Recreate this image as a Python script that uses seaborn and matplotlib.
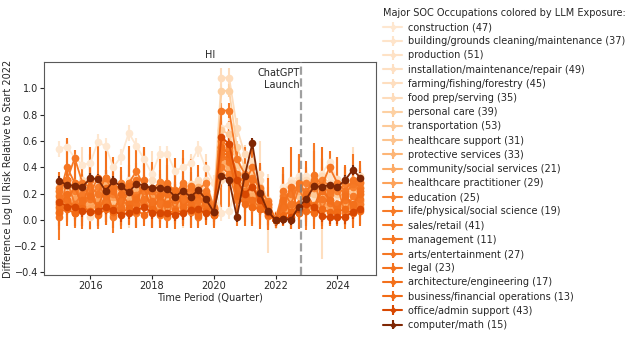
import numpy as np
import pandas as pd
import matplotlib
matplotlib.use("Agg")
import matplotlib.pyplot as plt
import seaborn as sns

quarters = ["2015Q1","2015Q2","2015Q3","2015Q4","2016Q1","2016Q2","2016Q3","2016Q4",
            "2017Q1","2017Q2","2017Q3","2017Q4","2018Q1","2018Q2","2018Q3","2018Q4",
            "2019Q1","2019Q2","2019Q3","2019Q4","2020Q1","2020Q2","2020Q3","2020Q4",
            "2021Q1","2021Q2","2021Q3","2021Q4","2022Q1","2022Q2","2022Q3","2022Q4",
            "2023Q1","2023Q2","2023Q3","2023Q4","2024Q1","2024Q2","2024Q3","2024Q4"]

occupations = ["construction (47)", "building/grounds cleaning/maintenance (37)", "production (51)",
               "installation/maintenance/repair (49)", "farming/fishing/forestry (45)",
               "food prep/serving (35)", "personal care (39)", "transportation (53)",
               "healthcare support (31)", "protective services (33)", "community/social services (21)",
               "healthcare practitioner (29)", "education (25)", "life/physical/social science (19)",
               "sales/retail (41)", "management (11)", "arts/entertainment (27)", "legal (23)",
               "architecture/engineering (17)", "business/financial operations (13)",
               "office/admin support (43)", "computer/math (15)"]

construction = [.54,.555,.47,.42, .43,.59,.56,.40, .48,.66,.56,.46, .35,.50,.50,.37, .40,.43,.54,.39,
                .28,.05,.07,.25, .28,.20,.15,.10, 0,.25,.30,.33, .33,.30,.35,.44, .30,.27,.30,.26]
building = [.22,.18,.25,.20, .24,.20,.28,.22, .18,.30,.26,.22, .20,.24,.19,.22, .18,.26,.27,.20,
            .10,.70,.72,.40, .30,.28,.20,.12, 0,.20,.28,.30, .28,.32,.30,.33, .26,.30,.28,.31]
production = [.12,.10,.15,.08, .14,.11,.16,.10, .09,.13,.15,.12, .10,.12,.08,.11, .13,.09,.12,.10,
              .05,.45,.42,.22, .18,.16,.12,.08, 0,.06,.08,.12, .10,.14,.12,.15, .12,.13,.16,.14]
installation = [.18,.20,.15,.17, .22,.18,.15,.20, .16,.14,.21,.18, .15,.19,.17,.14, .20,.16,.18,.12,
                .08,.55,.50,.30, .22,.18,.14,.09, 0,.12,.15,.20, .22,.18,.20,.24, .18,.22,.20,.25]
farming = [.05,.25,.10,.30, .02,.18,.32,.08, .20,.06,.28,.12, .30,.04,.22,.15, .08,.26,.12,.30,
           .10,.30,.45,.20, .25,.10,.35,.05, 0,.20,.08,.28, .15,.32,.05,.25, .20,.10,.30,.18]
food_prep = [.25,.22,.28,.24, .27,.30,.25,.22, .24,.28,.31,.26, .22,.25,.27,.20, .24,.27,.30,.22,
             .12,1.08,1.08,.70, .50,.45,.30,.15, 0,.22,.28,.30, .30,.26,.33,.28, .31,.27,.29,.33]
personal_care = [.20,.16,.22,.18, .15,.21,.19,.17, .22,.25,.20,.16, .18,.21,.15,.19, .20,.17,.24,.18,
                 .08,.98,.98,.55, .40,.35,.25,.12, 0,.15,.20,.24, .22,.25,.21,.26, .24,.20,.26,.22]
transportation = [.16,.18,.14,.20, .17,.15,.19,.16, .13,.18,.16,.20, .15,.12,.17,.14, .16,.19,.15,.13,
                  .07,.68,.65,.42, .30,.25,.18,.10, 0,.10,.14,.18, .16,.20,.18,.22, .20,.18,.21,.24]
hc_support = [.10,.14,.08,.12, .06,.13,.09,.11, .12,.07,.10,.14, .08,.11,.06,.10, .12,.09,.11,.07,
              .05,.50,.45,.25, .20,.16,.12,.06, 0,.08,.05,.10, .12,.09,.14,.11, .10,.13,.09,.12]
protective = [.22,.26,.19,.24, .20,.23,.27,.21, .25,.19,.22,.26, .21,.24,.20,.18, .23,.20,.25,.19,
              .09,.42,.40,.30, .26,.22,.16,.11, 0,.14,.18,.22, .20,.24,.22,.19, .23,.21,.25,.20]
community = [.08,.12,.05,.10, .13,.07,.11,.04, .09,.14,.06,.10, .12,.05,.09,.13, .07,.11,.08,.12,
             .04,.45,.40,.20, .15,.18,.10,.05, 0,.05,.09,.06, .10,.07,.12,.08, .09,.11,.07,.10]
hc_practitioner = [.14,.10,.16,.12, .09,.15,.12,.17, .11,.13,.08,.14, .16,.10,.13,.09, .12,.15,.10,.13,
                   .06,.35,.33,.18, .14,.12,.09,.05, 0,.07,.10,.08, .11,.09,.13,.10, .12,.08,.11,.14]
education = [.24,.30,.22,.27, .18,.25,.32,.20, .28,.23,.19,.26, .22,.29,.24,.21, .26,.20,.23,.28,
             .10,.55,.52,.28, .22,.25,.18,.12, 0,.16,.22,.26, .28,.24,.30,.26, .22,.27,.25,.29]
life_science = [.05,.30,.12,.20, .25,.08,.18,.02, .15,.28,.05,.22, .10,.24,.02,.18, .28,.06,.16,.12,
                .06,.40,.35,.15, .30,.10,.22,.03, 0,.18,.05,.24, .12,.30,.08,.20, .26,.05,.18,.12]
sales = [.22,.30,.47,.28, .25,.20,.32,.26, .24,.28,.37,.25, .22,.20,.26,.23, .20,.24,.22,.18,
         .08,.83,.83,.46, .35,.32,.24,.14, 0,.14,.20,.24, .22,.28,.24,.22, .25,.20,.27,.28]
management = [.12,.15,.10,.14, .16,.11,.13,.09, .14,.12,.17,.11, .10,.14,.12,.15, .13,.10,.15,.11,
              .06,.48,.44,.22, .18,.14,.10,.07, 0,.09,.12,.10, .14,.11,.16,.13, .12,.15,.11,.16]
arts = [.18,.40,.28,.08, .20,.32,.14,.26, .10,.22,.30,.16, .24,.12,.28,.20, .15,.26,.10,.22,
        .08,.60,.55,.35, .28,.40,.20,.10, 0,.22,.12,.28, .20,.34,.26,.40, .28,.22,.30,.24]
legal = [.02,.15,.25,.10, .30,.05,.18,.22, .08,.26,.12,.30, .14,.04,.20,.08, .22,.12,.02,.18,
         .05,.50,.45,.25, .15,.30,.08,.12, 0,.10,.25,.05, .18,.08,.22,.15, .05,.20,.10,.22]
architecture = [.10,.20,.05,.15, .18,.10,.24,.06, .20,.12,.16,.25, .06,.18,.12,.22, .10,.16,.20,.08,
                .04,.52,.48,.20, .20,.15,.18,.06, 0,.15,.05,.12, .20,.10,.25,.15, .08,.18,.12,.20]
business = [.06,.08,.05,.09, .07,.04,.08,.06, .05,.09,.07,.04, .08,.06,.05,.07, .06,.08,.04,.07,
            .04,.55,.50,.18, .12,.10,.08,.04, 0,.04,.06,.05, .07,.05,.08,.06, .06,.08,.05,.07]
office_admin = [.137,.10,.10,.07, .06,.07,.095,.075, .035,.055,.075,.095, .055,.055,.05,.04, .05,.075,.08,.05,
                .06,.63,.575,.30, .20,.25,.15,.06, 0,.01,.02,.08, .12,.10,.03,.02, .02,.02,.06,.085]
computer_math = [.295,.265,.26,.25, .315,.31,.22,.295, .255,.21,.275,.26, .24,.245,.235,.175, .22,.175,.225,.155,
                 .06,.335,.30,.02, .33,.58,.205,.065, 0,.01,0,.10, .16,.255,.25,.265, .25,.30,.38,.32]

# typical half-width of the error bars per occupation
err_typical = [.06,.05,.04,.05,None,.07,.05,.05,.05,.05,.06,.05,.06,None,.06,.05,None,None,None,.04,.05,.04]
err_farming = [.12,.2,.15,.25,.1,.18,.22,.14,.2,.12,.25,.16,.22,.1,.18,.2,.14,.24,.16,.2,
               .1,.25,.3,.2,.22,.15,.25,.3,0,.2,.15,.22,.18,.25,.35,.2,.22,.15,.25,.18]
err_life = [.2,.3,.18,.22,.25,.15,.2,.12,.22,.25,.1,.2,.15,.22,.08,.2,.25,.12,.18,.15,
            .1,.3,.25,.2,.25,.15,.2,.1,0,.2,.12,.25,.2,.28,.15,.2,.22,.12,.2,.15]
err_arts = [.18,.22,.2,.15,.2,.25,.18,.22,.15,.2,.25,.18,.2,.15,.22,.2,.18,.2,.15,.22,
            .1,.25,.2,.2,.22,.18,.2,.15,0,.18,.15,.22,.2,.18,.2,.12,.2,.18,.2,.15]
err_legal = [.1,.2,.25,.15,.25,.1,.2,.22,.12,.3,.18,.25,.2,.1,.22,.15,.25,.18,.08,.2,
             .1,.25,.2,.18,.2,.25,.12,.2,0,.15,.3,.12,.2,.15,.25,.2,.1,.22,.15,.2]
err_arch = [.15,.22,.1,.2,.25,.15,.28,.12,.2,.15,.22,.3,.12,.2,.18,.25,.15,.2,.22,.12,
            .1,.25,.22,.2,.22,.18,.25,.1,0,.2,.12,.18,.25,.15,.3,.2,.12,.22,.18,.25]

series = [construction, building, production, installation, farming, food_prep, personal_care,
          transportation, hc_support, protective, community, hc_practitioner, education,
          life_science, sales, management, arts, legal, architecture, business, office_admin,
          computer_math]
err_lists = {4: err_farming, 13: err_life, 16: err_arts, 17: err_legal, 18: err_arch}

# colour levels on the Oranges colormap (by LLM exposure)
color_levels = [0.12, 0.14, 0.15, 0.16, 0.17, 0.18, 0.25, 0.27, 0.30, 0.35, 0.39, 0.42,
                0.54, 0.56, 0.57, 0.58, 0.58, 0.59, 0.60, 0.62, 0.75, 1.0]

t = [int(q[:4]) + (int(q[5]) - 1) / 4 for q in quarters]

rows = []
for name, vals in zip(occupations, series):
    for tt, v in zip(t, vals):
        rows.append({"time": tt, "value": v, "occupation": name})
df = pd.DataFrame(rows)

sns.set_style("ticks")
plt.rcParams["font.family"] = ["DejaVu Sans"]
FS = 7.0
plt.rcParams["font.size"] = FS

cmap = plt.get_cmap("Oranges")
palette = {name: cmap(lvl) for name, lvl in zip(occupations, color_levels)}

fig = plt.figure(figsize=(6.35, 3.38), dpi=100)
ax = fig.add_axes([0.069, 0.186, 0.523, 0.631])

sns.lineplot(data=df, x="time", y="value", hue="occupation", hue_order=occupations,
             palette=palette, marker="o", markersize=5.5, markeredgewidth=0,
             linewidth=1.3, legend=False, ax=ax, errorbar=None)

for i, (name, vals) in enumerate(zip(occupations, series)):
    e = err_lists.get(i, err_typical[i])
    ax.errorbar(t, vals, yerr=e, fmt="none", ecolor=palette[name], elinewidth=1.5,
                capsize=0, zorder=1.5 + i * 0.01)

for k, line in enumerate(ax.lines):
    line.set_zorder(2 + k * 0.01)

launch = 2022.83
ax.axvline(launch, color="gray", linestyle="--", linewidth=1.6, alpha=0.75, zorder=5)
ax.text(launch - 0.05, 1.15, "ChatGPT\nLaunch", ha="right", va="top", fontsize=FS, color="0.15",
        zorder=6)

ax.set_ylim(-0.42, 1.2)
ax.set_xlim(2014.5, 2025.25)
ax.set_xticks([2016, 2018, 2020, 2022, 2024])
ax.set_yticks([-0.4, -0.2, 0.0, 0.2, 0.4, 0.6, 0.8, 1.0])
ax.set_xlabel("Time Period (Quarter)", fontsize=FS, labelpad=1)
ax.set_ylabel("Difference Log UI Risk Relative to Start 2022", fontsize=FS, labelpad=1)
ax.set_title("HI", fontsize=FS, pad=3)
ax.tick_params(labelsize=FS, length=3, pad=1.2)
for sp in ax.spines.values():
    sp.set_color("0.35")

# legend proxies (empty errorbar containers give the line/marker/bar legend glyph)
handles = []
for name in occupations:
    c = palette[name]
    h = ax.errorbar([], [], yerr=[], fmt="-D", color=c, markersize=3.5, linewidth=1.5,
                    elinewidth=1.5, markeredgewidth=0, capsize=0)
    handles.append(h)

leg = fig.legend(handles, occupations, loc="upper left", bbox_to_anchor=(0.597, 0.988),
                 frameon=False, fontsize=FS, title="Major SOC Occupations colored by LLM Exposure:",
                 title_fontsize=FS, handlelength=2.0, labelspacing=0.43, handletextpad=0.6,
                 borderaxespad=0, alignment="left", numpoints=1)

fig.savefig("out.png", dpi=100)
